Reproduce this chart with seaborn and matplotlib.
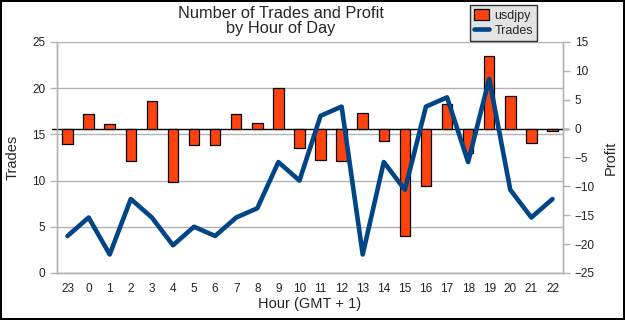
import numpy as np
import pandas as pd
import matplotlib
matplotlib.use("Agg")
import matplotlib.pyplot as plt
import seaborn as sns

hours = ["23", "0", "1", "2", "3", "4", "5", "6", "7", "8", "9", "10",
         "11", "12", "13", "14", "15", "16", "17", "18", "19", "20", "21", "22"]
trades = [4, 6, 2, 8, 6, 3, 5, 4, 6, 7, 12, 10,
          17, 18, 2, 12, 9, 18, 19, 12, 21, 9, 6, 8]
profit = [-2.6, 2.6, 0.8, -5.6, 4.8, -9.3, -2.9, -2.9, 2.5, 0.9, 7.0, -3.4,
          -5.5, -5.6, 2.7, -2.2, -18.6, -9.9, 4.2, -4.3, 12.6, 5.7, -2.5, -0.5]

df = pd.DataFrame({"hour": hours, "pos": np.arange(len(hours)),
                   "trades": trades, "profit": profit})

sns.set_style("white")
plt.rcParams["font.family"] = ["Liberation Sans", "DejaVu Sans"]

bar_color = "#ff420e"
line_color = "#004586"
grid_color = "#b3b3b3"

fig = plt.figure(figsize=(6.25, 3.2), dpi=100, linewidth=1.5, edgecolor="black")
rect = [0.0912, 0.147, 0.8096, 0.722]
ax1 = fig.add_axes(rect)           # grid + trades axis
ax2 = ax1.twinx()                  # profit bars
ax3 = fig.add_axes(rect, sharex=ax1, sharey=ax1)  # trades line on top

# profit bars
sns.barplot(data=df, x="hour", y="profit", order=hours, ax=ax2,
            color=bar_color, saturation=1, width=0.5,
            edgecolor="black", linewidth=0.9)
ax2.axhline(0, color="black", lw=1, xmin=-0.01, xmax=1.01, clip_on=False, zorder=0.5)

# trades line
sns.lineplot(data=df, x="pos", y="trades", ax=ax3, color=line_color, lw=3.3)
ax3.axis("off")
ax3.patch.set_visible(False)

# left axis
ax1.set_xlim(-0.5, len(hours) - 0.5)
ax1.set_ylim(0, 25)
ax1.set_yticks(np.arange(0, 26, 5))
ax1.yaxis.grid(True, color=grid_color, lw=1)
ax1.set_xticks(np.arange(len(hours)))
ax1.set_xticklabels(hours)
ax1.set_xticks(np.arange(len(hours) + 1) - 0.5, minor=True)
ax1.tick_params(axis="x", which="major", length=0, labelsize=8.5, pad=7, colors="#222222")
ax1.tick_params(axis="x", which="minor", length=5, width=1, color=grid_color, direction="out")
ax1.tick_params(axis="y", length=5, width=1, color=grid_color, labelsize=8.5,
                labelcolor="#222222", direction="out", left=True)
ax1.set_xlabel("Hour (GMT + 1)", fontsize=10.5, labelpad=2)
ax1.set_ylabel("Trades", fontsize=10.5, labelpad=9)

# right axis
ax2.set_ylim(-25, 15)
ax2.set_yticks(np.arange(-25, 16, 5))
ax2.tick_params(axis="y", length=5, width=1, color=grid_color, labelsize=8.5,
                labelcolor="#222222", direction="out", right=True)
ax2.set_xlabel("")
ax2.set_ylabel("Profit", fontsize=10.5, labelpad=6)

for ax in (ax1, ax2):
    for s in ax.spines.values():
        s.set_color(grid_color)
        s.set_linewidth(1)
    ax.spines["top"].set_visible(False)

fig.text(0.449, 0.982, "Number of Trades and Profit\nby Hour of Day",
         ha="center", va="top", fontsize=11.8, linespacing=1.0)

handles = [ax2.patches[0], ax3.lines[0]]
leg = fig.legend(handles, ["usdjpy", "Trades"], loc="upper left",
                 bbox_to_anchor=(0.752, 0.985), fontsize=9, frameon=True,
                 fancybox=False, handlelength=1.2, handleheight=0.9,
                 borderpad=0.35, labelspacing=0.2, handletextpad=0.4,
                 borderaxespad=0)
leg.get_frame().set_facecolor("#dcdcdc")
leg.get_frame().set_edgecolor("black")
leg.get_frame().set_linewidth(1)

fig.savefig("out.png", dpi=100)
